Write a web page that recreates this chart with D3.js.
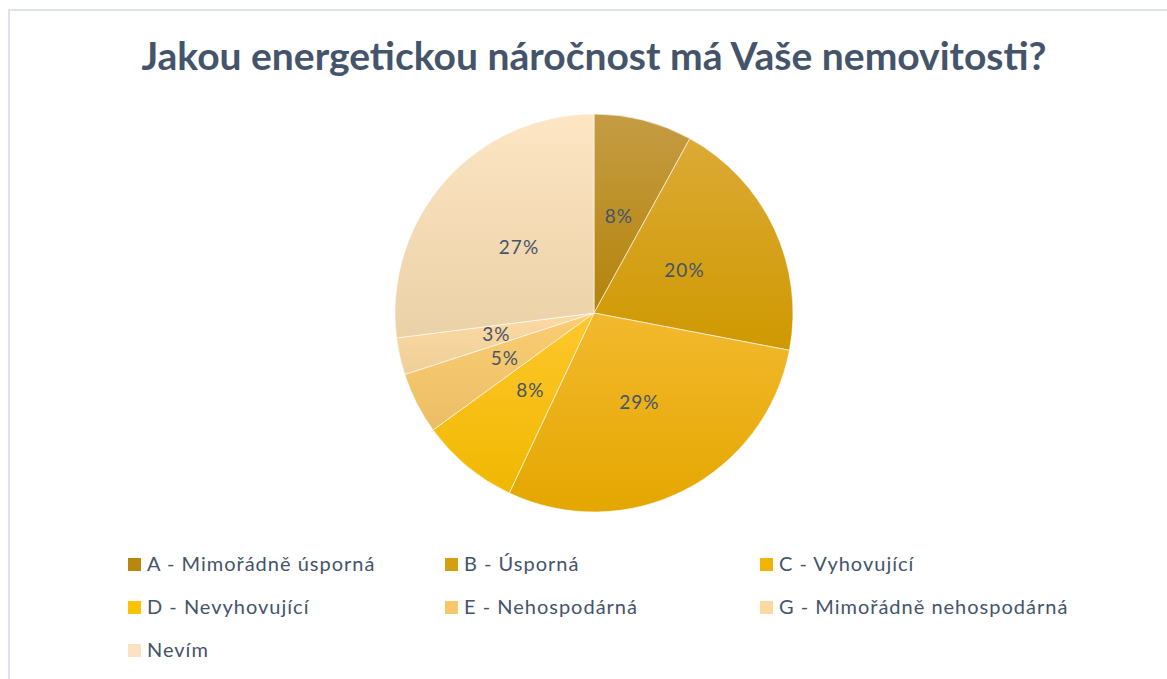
<!DOCTYPE html>
<html lang="cs">
<head>
<meta charset="UTF-8">
<title>Energetická náročnost</title>
<style>
  body { margin: 0; background: #fff; }
  svg { display: block; }
  text { font-family: Lato, "Open Sans", sans-serif; fill: #44546a; }
</style>
</head>
<body>
<svg id="chart" width="1167" height="679"></svg>
<script src="https://d3js.org/d3.v7.min.js"></script>
<script>

var title = "Jakou energetickou náročnost má Vaše nemovitosti?";
var categories = ["A - Mimořádně úsporná", "B - Úsporná", "C - Vyhovující",
  "D - Nevyhovující", "E - Nehospodárná", "G - Mimořádně nehospodárná", "Nevím"];
var values = [8, 20, 29, 8, 5, 3, 27];
var topColors = ["#c59c44", "#dcaa36", "#f3b92e", "#ffc72c", "#fccd73", "#fdd9a2", "#fee5c4"];
var bottomColors = ["#b3840a", "#cf9900", "#e4a700", "#f0b800", "#ebbe66", "#efcf98", "#ead1a6"];
var legendColors = ["#b8870f", "#d4a012", "#f1b400", "#fec300", "#fac66a", "#fcd9a1", "#fbe2c2"];

var svg = d3.select("#chart"),
  width = +svg.attr("width"),
  height = +svg.attr("height"),
  cx = 594, cy = 313, r = 199;

// frame
svg.append("path")
  .attr("d", "M9," + height + " V10 H" + width)
  .attr("fill", "none")
  .attr("stroke", "#dfe2ea")
  .attr("stroke-width", 2);

svg.append("text")
  .attr("x", cx)
  .attr("y", 70)
  .attr("text-anchor", "middle")
  .style("font-size", "39px")
  .style("font-weight", "bold")
  .text(title);

var defs = svg.append("defs");
categories.forEach(function (c, i) {
  var g = defs.append("linearGradient")
    .attr("id", "grad" + i)
    .attr("x1", 0).attr("y1", 0).attr("x2", 0).attr("y2", 1);
  g.append("stop").attr("offset", "0%").attr("stop-color", topColors[i]);
  g.append("stop").attr("offset", "100%").attr("stop-color", bottomColors[i]);
});

var pie = d3.pie().sort(null).value(function (d) { return d; });
var arcs = pie(values);
var arc = d3.arc().innerRadius(0).outerRadius(r);
var labelArc = d3.arc().innerRadius(100).outerRadius(100);

var g = svg.append("g").attr("transform", "translate(" + cx + "," + cy + ")");

g.selectAll("path.slice")
  .data(arcs)
  .enter().append("path")
  .attr("class", "slice")
  .attr("d", arc)
  .attr("fill", function (d, i) { return "url(#grad" + i + ")"; })
  .attr("stroke", "rgba(255,255,255,0.6)")
  .attr("stroke-width", 1);

g.selectAll("text.lbl")
  .data(arcs)
  .enter().append("text")
  .attr("class", "lbl")
  .attr("transform", function (d) { return "translate(" + labelArc.centroid(d) + ")"; })
  .attr("text-anchor", "middle")
  .attr("dy", "0.35em")
  .style("font-size", "19px")
  .style("letter-spacing", "1px")
  .text(function (d) { return d.value + "%"; });

// legend
var colX = [128, 445, 760], rowY = [564, 607, 650];
var leg = svg.selectAll("g.leg")
  .data(categories)
  .enter().append("g")
  .attr("class", "leg")
  .attr("transform", function (d, i) {
    return "translate(" + colX[i % 3] + "," + rowY[Math.floor(i / 3)] + ")";
  });
leg.append("rect")
  .attr("x", 0).attr("y", -6)
  .attr("width", 13).attr("height", 13)
  .attr("fill", function (d, i) { return legendColors[i]; });
leg.append("text")
  .attr("x", 19)
  .attr("dy", "0.35em")
  .style("font-size", "20px")
  .style("letter-spacing", "1px")
  .text(function (d) { return d; });

</script>
</body>
</html>
